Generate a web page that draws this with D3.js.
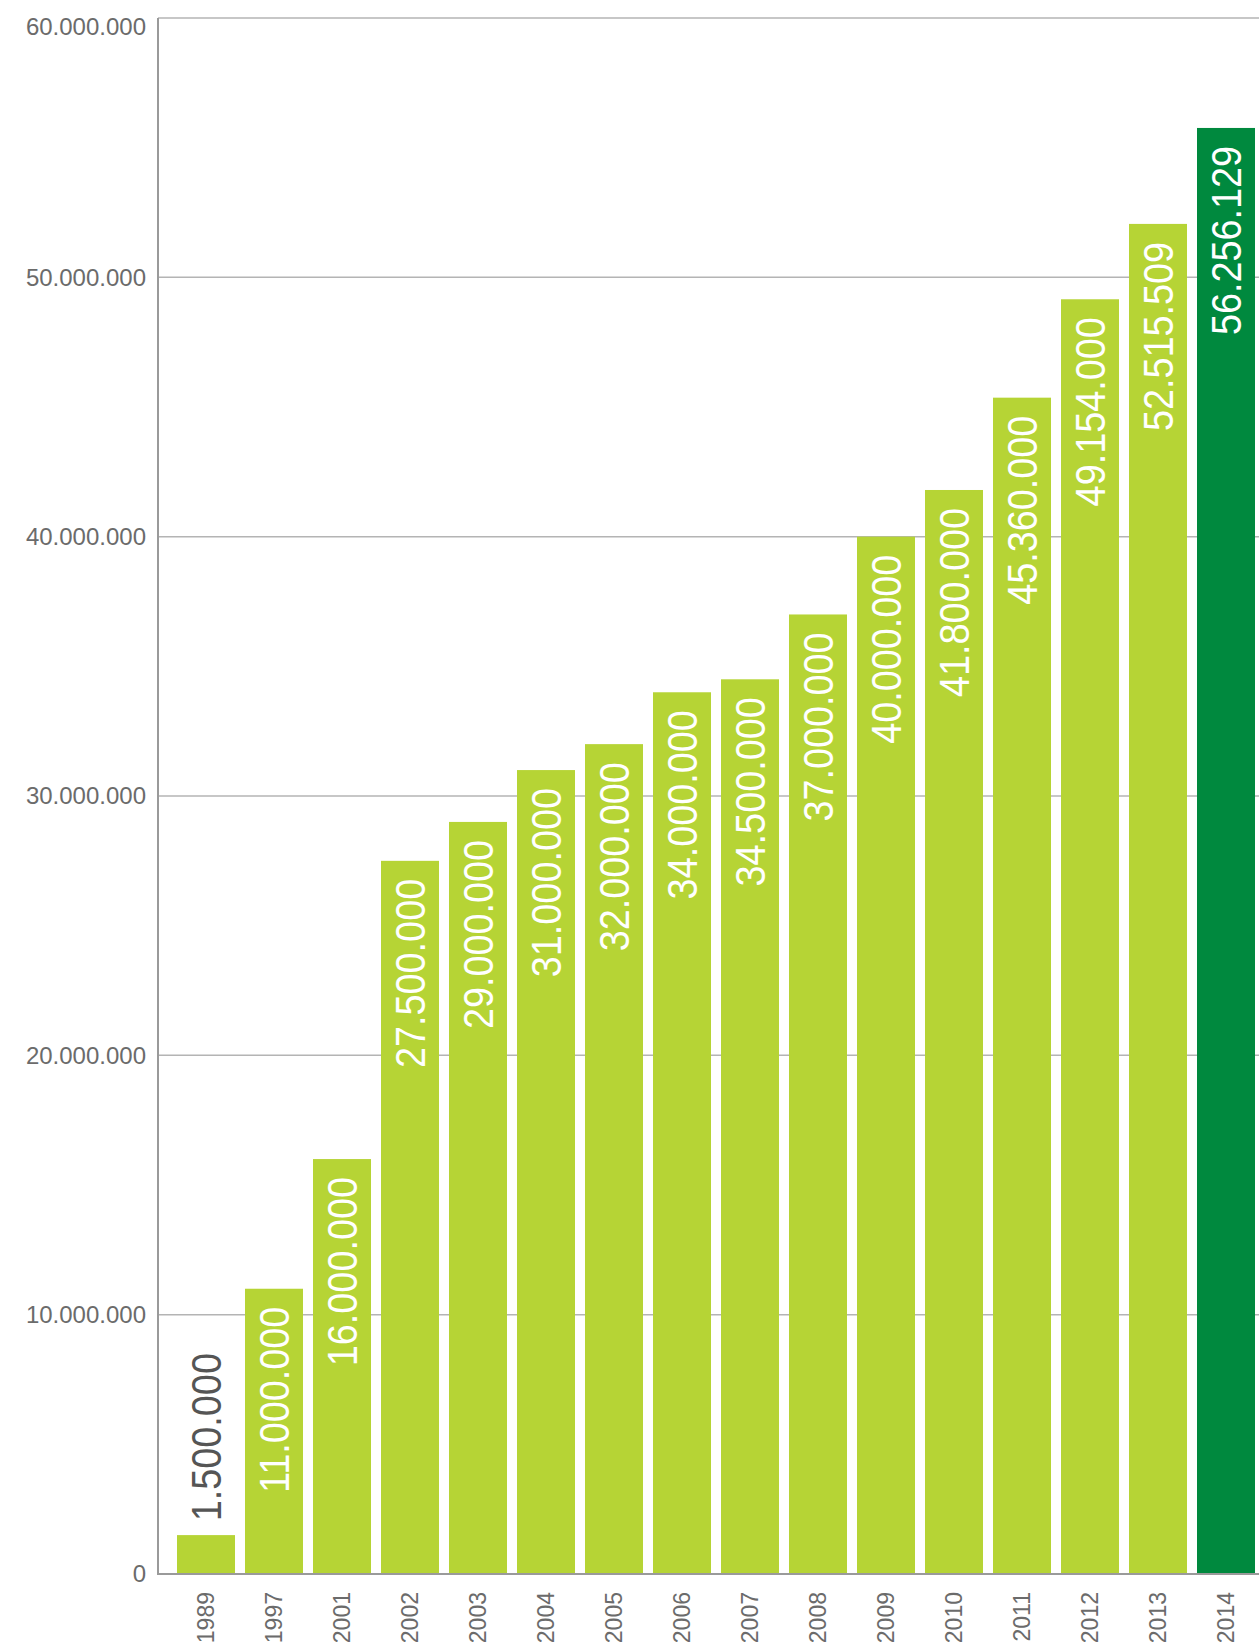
<!DOCTYPE html>
<html>
<head>
<meta charset="utf-8">
<script src="https://cdn.jsdelivr.net/npm/d3@7"></script>
<style>
  body { margin: 0; background: #fff; }
  svg { display: block; }
</style>
</head>
<body>
<div id="barchart"></div>
<script>
// data
const years = ["1989", "1997", "2001", "2002", "2003", "2004", "2005", "2006",
               "2007", "2008", "2009", "2010", "2011", "2012", "2013", "2014"];
// bar heights as drawn (last two bars are drawn a bit shorter than their labels)
const values = [1500000, 11000000, 16000000, 27500000, 29000000, 31000000, 32000000, 34000000,
                34500000, 37000000, 40000000, 41800000, 45360000, 49154000, 52060000, 55760000];
const valueLabels = ["1.500.000", "11.000.000", "16.000.000", "27.500.000", "29.000.000",
                     "31.000.000", "32.000.000", "34.000.000", "34.500.000", "37.000.000",
                     "40.000.000", "41.800.000", "45.360.000", "49.154.000", "52.515.509",
                     "56.256.129"];
const yTicks = [0, 10000000, 20000000, 30000000, 40000000, 50000000, 60000000];
const yTickLabels = ["0", "10.000.000", "20.000.000", "30.000.000", "40.000.000",
                     "50.000.000", "60.000.000"];

// set the dimensions and margins of the graph
const W = 1259, H = 1643;
const margin = {top: 18, right: 0, bottom: 69, left: 158};
const plotBottom = H - margin.bottom;

const svg = d3.select("#barchart")
  .append("svg")
    .attr("width", W)
    .attr("height", H)
    .style("font-family", "'Liberation Sans', Arial, sans-serif");

// scales
const x = d3.scaleBand()
  .domain(years)
  .range([172, 1260])
  .paddingInner(0.147)
  .paddingOuter(0.0735);

const y = d3.scaleLinear()
  .domain([0, 60000000])
  .range([plotBottom, margin.top]);

// gridlines
svg.append("g")
  .selectAll("line")
  .data(yTicks.slice(1))
  .join("line")
    .attr("x1", margin.left)
    .attr("x2", W)
    .attr("y1", d => y(d))
    .attr("y2", d => y(d))
    .attr("stroke", "#b4b4b4")
    .attr("stroke-width", 1.5);

// y tick labels
svg.append("g")
  .selectAll("text")
  .data(yTicks)
  .join("text")
    .attr("x", 146)
    .attr("y", d => Math.max(y(d), margin.top + 9))
    .attr("dy", "0.35em")
    .attr("text-anchor", "end")
    .attr("font-size", 24)
    .attr("fill", "#6b6b6b")
    .text((d, i) => yTickLabels[i]);

// bars
svg.append("g")
  .selectAll("rect")
  .data(values)
  .join("rect")
    .attr("x", (d, i) => x(years[i]))
    .attr("width", x.bandwidth())
    .attr("y", d => y(d))
    .attr("height", d => plotBottom - y(d))
    .attr("fill", (d, i) => i === values.length - 1 ? "#00893e" : "#b6d435");

// axis lines
svg.append("line")
  .attr("x1", margin.left).attr("x2", margin.left)
  .attr("y1", margin.top).attr("y2", plotBottom + 1)
  .attr("stroke", "#9a9a9a").attr("stroke-width", 2);
svg.append("line")
  .attr("x1", margin.left).attr("x2", W)
  .attr("y1", plotBottom).attr("y2", plotBottom)
  .attr("stroke", "#9a9a9a").attr("stroke-width", 2);

// value labels, rotated; short bars get the label above in grey
const labelFits = d => plotBottom - y(d) > 200;
svg.append("g")
  .selectAll("text")
  .data(values)
  .join("text")
    .attr("transform", (d, i) => {
      const cx = x(years[i]) + x.bandwidth() / 2;
      const ty = labelFits(d) ? y(d) + 18 : y(d) - 182;
      return `translate(${cx},${ty}) rotate(-90) scale(0.9,1)`;
    })
    .attr("dy", "0.36em")
    .attr("text-anchor", "end")
    .attr("font-size", 42)
    .attr("fill", d => labelFits(d) ? "#ffffff" : "#555555")
    .text((d, i) => valueLabels[i]);

// x labels
svg.append("g")
  .selectAll("text")
  .data(years)
  .join("text")
    .attr("transform", d => `translate(${x(d) + x.bandwidth() / 2},${plotBottom + 18}) rotate(-90)`)
    .attr("dy", "0.36em")
    .attr("text-anchor", "end")
    .attr("font-size", 23)
    .attr("fill", "#6b6b6b")
    .text(d => d);
</script>
</body>
</html>
